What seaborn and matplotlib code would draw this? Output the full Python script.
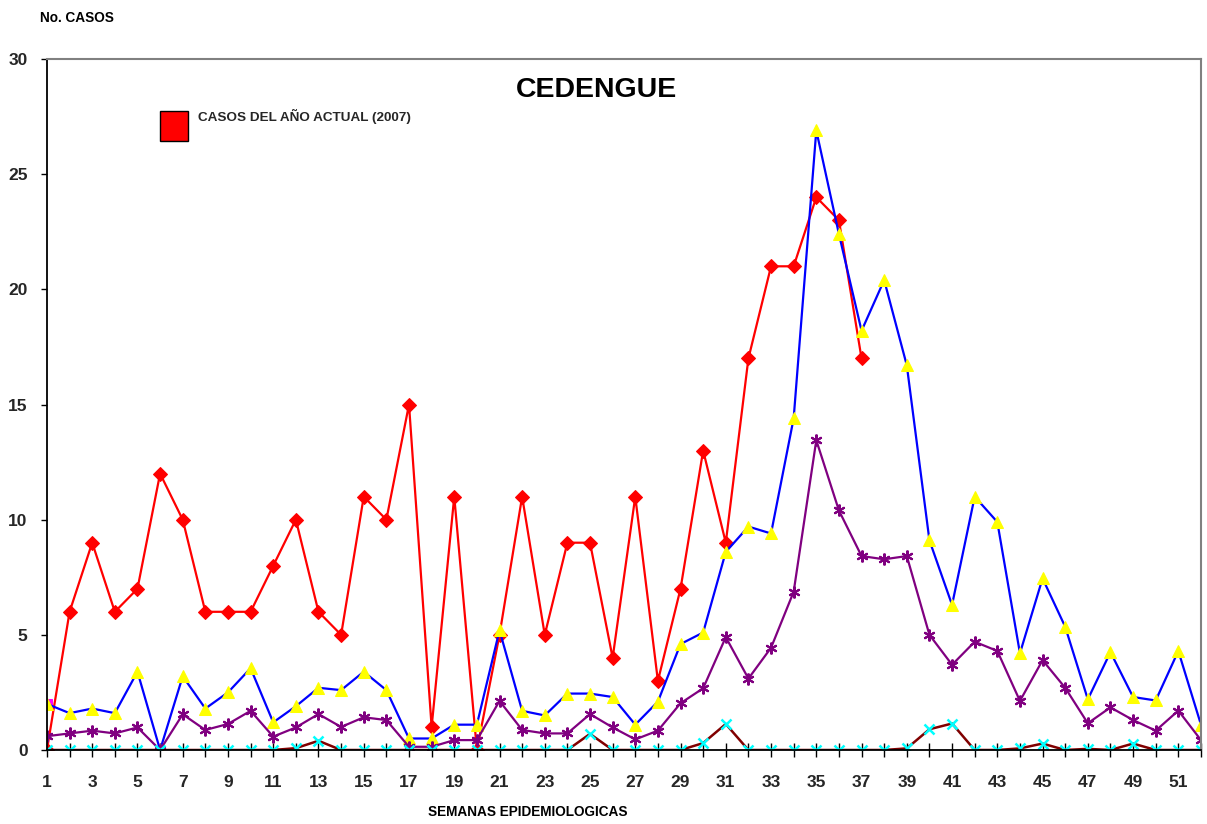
import matplotlib
matplotlib.use("Agg")
import matplotlib.pyplot as plt
from matplotlib.patches import Patch
from matplotlib.ticker import MultipleLocator, FixedLocator
import seaborn as sns

# Epidemiological weeks
weeks = list(range(1, 53))
odd_weeks = list(range(1, 52, 2))

# Current year cases (2007), reported up to week 37
actual_2007 = [0, 6, 9, 6, 7, 12, 10, 6, 6, 6,
               8, 10, 6, 5, 11, 10, 15, 1, 11, 0,
               5, 11, 5, 9, 9, 4, 11, 3, 7, 13,
               9, 17, 21, 21, 24, 23, 17]

# Upper band (blue line, yellow triangles)
upper_band = [2.0, 1.6, 1.8, 1.6, 3.4, 0, 3.2, 1.8, 2.5, 3.55,
              1.2, 1.9, 2.7, 2.6, 3.4, 2.6, 0.5, 0.5, 1.1, 1.1,
              5.2, 1.7, 1.5, 2.45, 2.45, 2.3, 1.1, 2.1, 4.6, 5.1,
              8.6, 9.7, 9.4, 14.4, 26.9, 22.4, 18.2, 20.4, 16.7, 9.1,
              6.3, 11.0, 9.9, 4.2, 7.45, 5.35, 2.2, 4.25, 2.3, 2.15,
              4.3, 1.1]

# Expected cases (purple line, asterisks)
expected = [0.6, 0.72, 0.84, 0.72, 0.98, 0, 1.55, 0.87, 1.13, 1.7,
            0.58, 0.98, 1.56, 1.0, 1.42, 1.3, 0.14, 0.14, 0.43, 0.43,
            2.13, 0.87, 0.72, 0.72, 1.56, 0.98, 0.46, 0.84, 2.03, 2.68,
            4.9, 3.1, 4.44, 6.87, 13.45, 10.4, 8.42, 8.28, 8.42, 5.0,
            3.7, 4.7, 4.3, 2.13, 3.9, 2.7, 1.16, 1.85, 1.3, 0.84,
            1.71, 0.43]

# Lower band (maroon line, cyan crosses)
lower_band = [0, 0, 0, 0, 0, 0, 0, 0, 0, 0,
              0, 0.08, 0.4, 0, 0, 0, 0, 0, 0, 0,
              0, 0, 0, 0, 0.7, 0, 0, 0, 0, 0.3,
              1.13, 0, 0, 0, 0, 0, 0, 0, 0.07, 0.9,
              1.15, 0, 0, 0.07, 0.28, 0, 0.05, 0, 0.28, 0,
              0, 0]

# Previous year start point (magenta square)
previous_weeks = [1]
previous_year = [2.0]

title = "CEDENGUE"
ylabel = "No. CASOS"
xlabel = "SEMANAS EPIDEMIOLOGICAS"
legend_label = "CASOS DEL AÑO ACTUAL (2007)"

sns.set_theme(style="white")
plt.rcParams["font.family"] = ["Liberation Sans", "DejaVu Sans"]
plt.rcParams["font.weight"] = "bold"

fig = plt.figure(figsize=(12.07, 8.24), dpi=100)
ax = fig.add_axes([0.0389, 0.0898, 0.9561, 0.8386])

sns.lineplot(x=previous_weeks, y=previous_year, ax=ax, color="#FF00FF",
             marker="s", markersize=7, markeredgecolor="#FF00FF",
             markerfacecolor="#FF00FF", linewidth=0)
sns.lineplot(x=weeks[:len(actual_2007)], y=actual_2007, ax=ax, color="#FF0000",
             linewidth=1.6, marker="D", markersize=7,
             markerfacecolor="#FF0000", markeredgecolor="#FF0000")
sns.lineplot(x=weeks, y=upper_band, ax=ax, color="#0000FF", linewidth=1.6,
             marker="^", markersize=8.5, markerfacecolor="#FFFF00",
             markeredgecolor="#FFFF00")
sns.lineplot(x=weeks, y=expected, ax=ax, color="#800080", linewidth=1.6,
             marker=(6, 2, 0), markersize=8.5, markeredgewidth=1.5,
             markeredgecolor="#800080")
sns.lineplot(x=weeks, y=lower_band, ax=ax, color="#800000", linewidth=1.8,
             marker="x", markersize=6.5, markeredgewidth=1.8,
             markeredgecolor="#00FFFF")

ax.set_xlim(1, 52)
ax.set_ylim(0, 30)
ax.xaxis.set_major_locator(FixedLocator(odd_weeks))
ax.xaxis.set_minor_locator(FixedLocator([w for w in weeks if w % 2 == 0]))
ax.yaxis.set_major_locator(MultipleLocator(5))

ax.tick_params(axis="x", which="both", direction="inout", length=10,
               width=1, color="black", bottom=True, labelsize=12.5, pad=13)
ax.tick_params(axis="y", which="major", direction="out", length=4,
               width=1, color="black", left=True, labelsize=12.5, pad=10)
for lab in ax.get_xticklabels() + ax.get_yticklabels():
    lab.set_fontweight("bold")

ax.set_xlabel("")
ax.set_ylabel("")
for side in ("left", "bottom"):
    ax.spines[side].set_color("black")
    ax.spines[side].set_linewidth(1.3)
for side in ("top", "right"):
    ax.spines[side].set_color("#808080")
    ax.spines[side].set_linewidth(1.5)
ax.grid(False)

ax.text(0.4766, 0.955, title, transform=ax.transAxes, ha="center", va="center",
        fontsize=20.5, fontweight="bold", color="black")
fig.text(0.033, 0.978, ylabel, ha="left", va="center", fontsize=9.8,
         fontweight="bold", color="black")
fig.text(0.437, 0.0146, xlabel, ha="center", va="center", fontsize=9.8,
         fontweight="bold", color="black")

handle = Patch(facecolor="#FF0000", edgecolor="black", linewidth=1.0,
               label=legend_label)
leg = ax.legend(handles=[handle], loc="upper left", bbox_to_anchor=(0.1326, 0.865),
                bbox_transform=fig.transFigure, frameon=False, borderpad=0,
                borderaxespad=0, handlelength=2.1, handleheight=3.05,
                handletextpad=0.7, prop={"size": 9.7, "weight": "bold"})
# Align the label with the top of the swatch
leg.get_texts()[0].set_y(9)

fig.savefig("out.png", dpi=100)
